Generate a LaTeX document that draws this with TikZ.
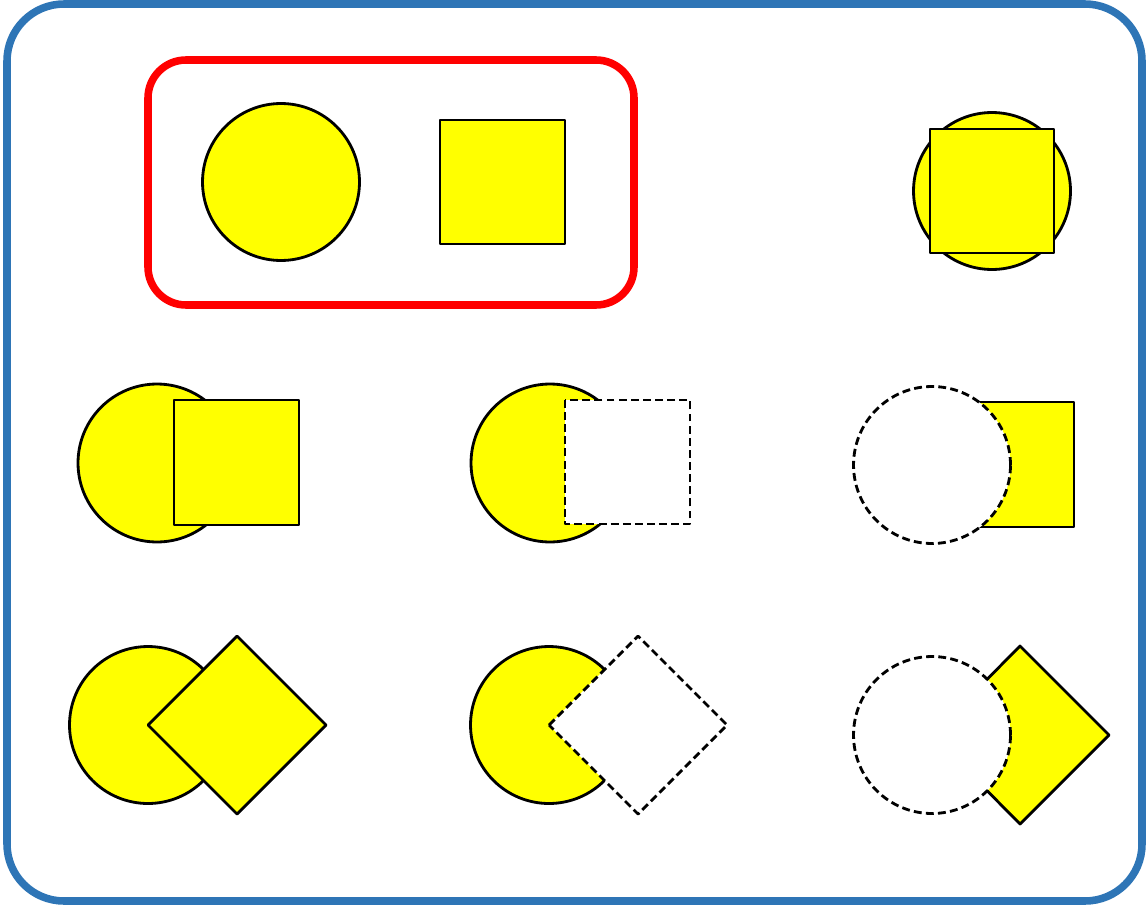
\documentclass[tikz,border=0pt]{standalone}
\definecolor{frameblue}{RGB}{46,117,182}
\definecolor{fillyellow}{RGB}{255,255,0}
\begin{document}
\begin{tikzpicture}[x=0.02cm,y=-0.02cm,line join=round,
		shp/.style={draw=black,line width=1.6pt},
		yel/.style={shp,fill=fillyellow},
		hol/.style={shp,fill=white,dash pattern=on 4.5pt off 2.4pt}]
	\useasboundingbox (0,0) rectangle (1148,909);
	% outer frame
	\draw[draw=frameblue,line width=4.3pt,rounded corners=1.14cm] (7,4) rectangle (1142,901);
	% group box
	\draw[draw=red,line width=4.3pt,rounded corners=0.76cm] (148,60) rectangle (634,305);
	\draw[yel] (281,182) circle[radius=1.57cm];
	\draw[yel] (440,120) rectangle (565,244);
	% top right
	\draw[yel] (992,191) circle[radius=1.57cm];
	\draw[yel] (930,129) rectangle (1054,253);
	% second row
	\draw[yel] (157,463) circle[radius=1.58cm];
	\draw[yel] (174,400) rectangle (299,525);
	\draw[yel] (550,463) circle[radius=1.58cm];
	\draw[hol] (565,400) rectangle (690,524);
	\draw[yel] (950,402) rectangle (1074,527);
	\draw[hol] (932,465) circle[radius=1.57cm];
	% third row
	\draw[yel] (148,725) circle[radius=1.57cm];
	\draw[yel] (148,725) -- (237,636) -- (326,725) -- (237,814) -- cycle;
	\draw[yel] (549,725) circle[radius=1.57cm];
	\draw[hol] (549,725) -- (638,636) -- (727,725) -- (638,814) -- cycle;
	\draw[yel] (932,735) -- (1020,646) -- (1109,735) -- (1020,824) -- cycle;
	\draw[hol] (932,735) circle[radius=1.57cm];
\end{tikzpicture}
\end{document}
